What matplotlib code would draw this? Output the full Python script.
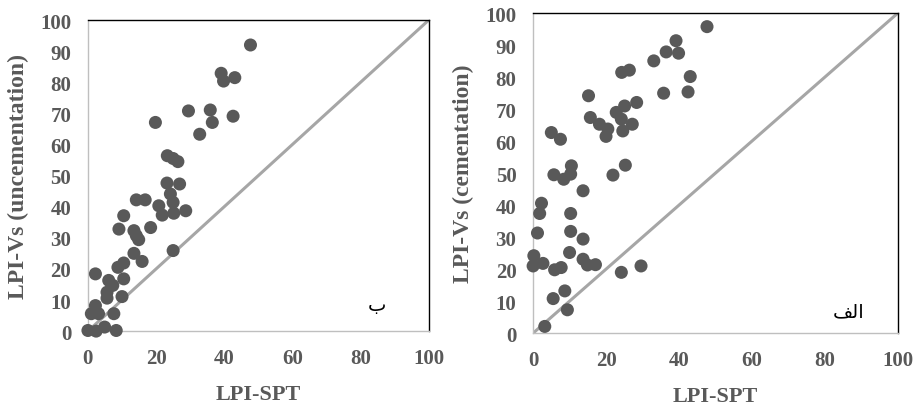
import numpy as np
import matplotlib
matplotlib.use("Agg")
import matplotlib.pyplot as plt

# panel "ب" (uncemented)
spt_b = [47.7, 39.1, 39.8, 43.1, 29.5, 35.9, 36.5, 42.6, 32.8, 19.8,
         23.3, 25.0, 26.4, 23.2, 26.9, 24.2, 25.0, 14.2, 16.8, 20.8,
         21.8, 25.2, 28.7, 10.5, 9.1, 18.4, 13.5, 14.2, 14.9, 13.5,
         15.9, 25.0, 8.8, 10.5, 10.5, 2.2, 6.1, 7.3, 5.6, 5.6,
         10.0, 2.2, 1.0, 3.1, 7.6, 0.0, 2.4, 4.9, 8.3]
vs_b = [92.0, 82.9, 80.4, 81.5, 70.8, 71.1, 67.1, 69.1, 63.3, 67.1,
        56.4, 55.5, 54.5, 47.6, 47.3, 44.1, 41.4, 42.2, 42.2, 40.3,
        37.3, 37.9, 38.7, 37.1, 32.8, 33.3, 32.3, 30.7, 29.4, 25.0,
        22.4, 25.9, 20.5, 21.9, 16.8, 18.4, 16.3, 14.7, 12.5, 10.6,
        11.1, 8.2, 5.6, 5.6, 5.6, 0.2, 0.0, 1.3, 0.2]

# panel "الف" (cemented)
spt_a = [47.7, 39.2, 39.9, 36.5, 33.1, 24.3, 26.4, 43.1, 42.5, 35.8,
         15.2, 28.4, 25.1, 22.8, 15.7, 27.2, 24.2, 18.2, 20.5, 20.0,
         24.6, 5.0, 7.5, 10.5, 5.7, 8.4, 10.3, 21.9, 25.3, 13.7,
         2.3, 1.8, 1.2, 10.3, 10.3, 13.7, 10.0, 0.2, 0.0, 2.7,
         5.9, 7.7, 13.7, 14.9, 17.1, 24.2, 29.6, 5.5, 8.7, 9.4, 3.2]
vs_a = [95.8, 91.4, 87.5, 87.9, 85.1, 81.5, 82.2, 80.2, 75.4, 75.0,
        74.2, 72.1, 71.0, 69.0, 67.4, 65.3, 66.9, 65.3, 63.8, 61.5,
        63.2, 62.7, 60.6, 52.3, 49.5, 48.1, 49.7, 49.4, 52.5, 44.5,
        40.6, 37.4, 31.3, 37.4, 31.8, 29.4, 25.2, 24.2, 21.0, 21.8,
        19.8, 20.5, 23.1, 21.3, 21.4, 19.0, 21.0, 10.8, 13.2, 7.3, 2.1]

ticks = [0, 20, 40, 60, 80, 100]
yticks = [0, 10, 20, 30, 40, 50, 60, 70, 80, 90, 100]

grey = "#595959"
serif = ["Liberation Serif", "DejaVu Serif"]

fig = plt.figure(figsize=(9.16, 4.06), dpi=100)
ax_b = fig.add_axes([0.096, 0.182, 0.372, 0.766])
ax_a = fig.add_axes([0.582, 0.177, 0.398, 0.788])


def style(ax, x, y, ylabel, tag, tag_xy):
    ax.plot([0, 100], [0, 100], color="#a6a6a6", lw=2.2, zorder=1)
    ax.scatter(x, y, s=88, color=grey, edgecolors="none", zorder=3, clip_on=False)
    ax.set_xlim(0, 100)
    ax.set_ylim(0, 100)
    ax.set_xticks(ticks)
    ax.set_yticks(yticks)
    for side in ("top", "right"):
        ax.spines[side].set_color("black")
        ax.spines[side].set_linewidth(1.0)
    for side in ("left", "bottom"):
        ax.spines[side].set_color("#bfbfbf")
        ax.spines[side].set_linewidth(1.0)
    ax.tick_params(length=0, labelcolor=grey, labelsize=15)
    ax.tick_params(axis="y", pad=12)
    ax.tick_params(axis="x", pad=12)
    for lab in ax.get_xticklabels() + ax.get_yticklabels():
        lab.set_fontfamily(serif)
        lab.set_fontweight("bold")
    ax.set_xlabel("LPI-SPT", family=serif, fontweight="bold", fontsize=16,
                  color=grey, labelpad=12)
    ax.set_ylabel(ylabel, family=serif, fontweight="bold", fontsize=17,
                  color=grey, labelpad=8)
    ax.text(tag_xy[0], tag_xy[1], tag, family=["DejaVu Sans"], fontsize=14,
            color="black", ha="center", va="center")


style(ax_b, spt_b, vs_b, "LPI-Vs (uncementation)", "ب", (84.7, 8.7))
# presentation forms in visual order so the letters join: ﻒ ﻟ ا
style(ax_a, spt_a, vs_a, "LPI-Vs (cementation)", "\ufed2\ufedf\u0627", (86.6, 6.9))

fig.savefig("out.png", dpi=100)
